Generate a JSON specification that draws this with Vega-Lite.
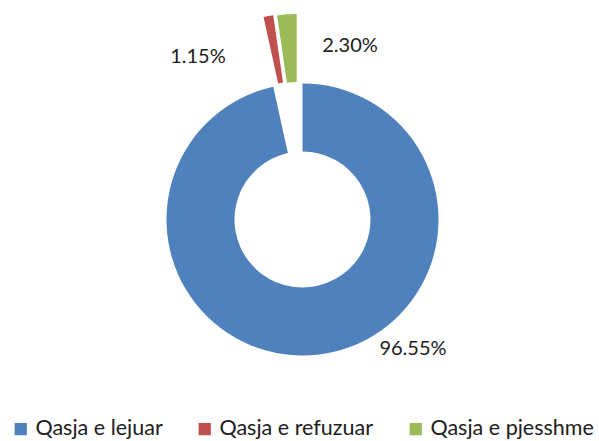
{
  "$schema": "https://vega.github.io/schema/vega-lite/v6.json",
  "width": 593,
  "height": 439,
  "autosize": "none",
  "padding": {"left": 6, "top": 0, "right": 0, "bottom": 2},
  "background": "white",
  "config": {"view": {"stroke": null}, "text": {"font": "Lato", "fontSize": 20, "color": "#202020"}},
  "data": {"values": [
    {"cat": "Qasja e lejuar", "value": 0.9655, "order": 1},
    {"cat": "Qasja e refuzuar", "value": 0.0115, "order": 2},
    {"cat": "Qasja e pjesshme", "value": 0.0230, "order": 3}
  ]},
  "transform": [{"stack": "value", "groupby": [], "sort": [{"field": "order", "order": "ascending"}], "as": ["v0", "v1"]}],
  "layer": [
    {
      "transform": [{"filter": "datum.cat === 'Qasja e lejuar'"}],
      "mark": {"type": "arc", "radius": 136, "radius2": 68},
      "encoding": {
        "theta": {"field": "v0", "type": "quantitative", "scale": {"domain": [0, 1]}},
        "theta2": {"field": "v1"},
        "color": {"field": "cat", "type": "nominal",
          "scale": {"domain": ["Qasja e lejuar", "Qasja e refuzuar", "Qasja e pjesshme"], "range": ["#4F81BD", "#C0504D", "#9BBB59"]},
          "legend": {"orient": "none", "legendX": 4, "legendY": 418, "direction": "horizontal", "title": null,
            "symbolType": "square", "symbolSize": 150, "symbolStrokeWidth": 0, "symbolOpacity": 1,
            "labelFont": "Lato", "labelFontSize": 21.5, "labelColor": "#202020", "labelLimit": 0, "columnPadding": 31, "labelOffset": 4, "padding": 0}}
      }
    },
    {
      "transform": [{"filter": "datum.cat === 'Qasja e refuzuar'"}],
      "mark": {"type": "arc", "radius": 136, "radius2": 68, "xOffset": -9.7, "yOffset": -69.6},
      "encoding": {
        "theta": {"field": "v0", "type": "quantitative", "scale": {"domain": [0, 1]}},
        "theta2": {"field": "v1"},
        "color": {"field": "cat", "type": "nominal"}
      }
    },
    {
      "transform": [{"filter": "datum.cat === 'Qasja e pjesshme'"}],
      "mark": {"type": "arc", "radius": 136, "radius2": 68, "xOffset": -5.8, "yOffset": -69.5},
      "encoding": {
        "theta": {"field": "v0", "type": "quantitative", "scale": {"domain": [0, 1]}},
        "theta2": {"field": "v1"},
        "color": {"field": "cat", "type": "nominal"}
      }
    },
    {
      "mark": {"type": "text", "radius": 170, "dx": 92.1, "dy": -39.5, "align": "center", "baseline": "middle"},
      "encoding": {
        "theta": {"field": "value", "type": "quantitative", "stack": true, "scale": {"domain": [0, 1]}},
        "order": {"field": "order", "type": "quantitative"},
        "text": {"condition": {"test": "datum.cat === 'Qasja e lejuar'", "field": "value", "format": ".2%"}, "value": ""}
      }
    },
    {
      "mark": {"type": "text", "radius": 190, "dx": -70.4, "dy": 24.4, "align": "center", "baseline": "middle"},
      "encoding": {
        "theta": {"field": "value", "type": "quantitative", "stack": true, "scale": {"domain": [0, 1]}},
        "order": {"field": "order", "type": "quantitative"},
        "text": {"condition": {"test": "datum.cat === 'Qasja e refuzuar'", "field": "value", "format": ".2%"}, "value": ""}
      }
    },
    {
      "mark": {"type": "text", "radius": 180, "dx": 60.5, "dy": 6.5, "align": "center", "baseline": "middle"},
      "encoding": {
        "theta": {"field": "value", "type": "quantitative", "stack": true, "scale": {"domain": [0, 1]}},
        "order": {"field": "order", "type": "quantitative"},
        "text": {"condition": {"test": "datum.cat === 'Qasja e pjesshme'", "field": "value", "format": ".2%"}, "value": ""}
      }
    }
  ]
}
